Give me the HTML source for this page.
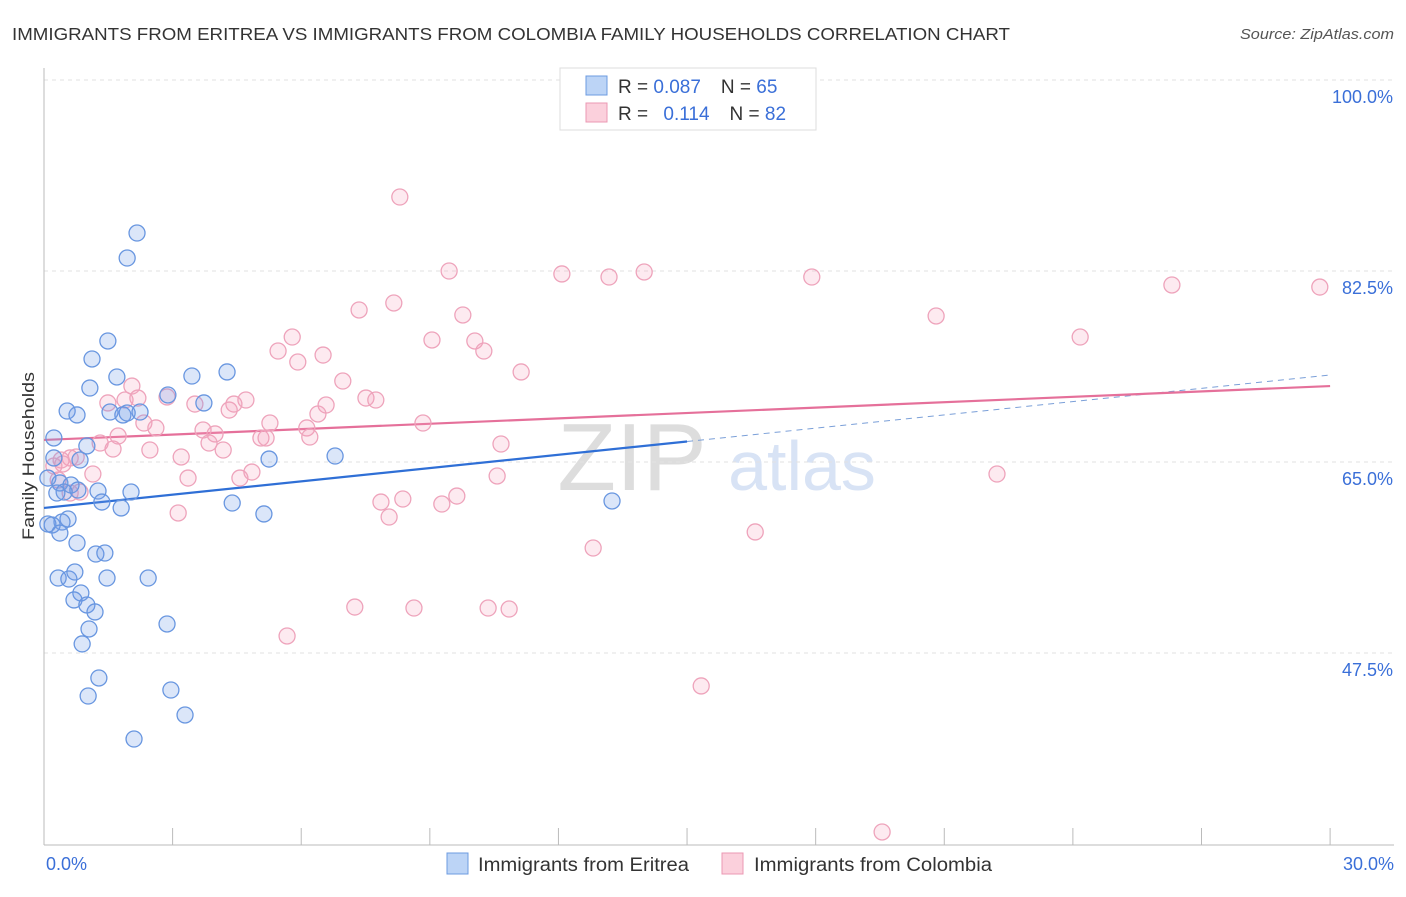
<!DOCTYPE html>
<html><head><meta charset="utf-8"><style>
body{margin:0;background:#fff;font-family:"Liberation Sans",sans-serif}
svg text{font-family:"Liberation Sans",sans-serif}
</style></head><body>
<svg id="c" width="1406" height="892" xmlns="http://www.w3.org/2000/svg">
<text x="12" y="40" font-size="17.5" fill="#333" textLength="998" lengthAdjust="spacingAndGlyphs">IMMIGRANTS FROM ERITREA VS IMMIGRANTS FROM COLOMBIA FAMILY HOUSEHOLDS CORRELATION CHART</text>
<text x="1240" y="39" font-size="15" fill="#555" textLength="154" lengthAdjust="spacingAndGlyphs" font-style="italic">Source: ZipAtlas.com</text>
<text x="34" y="456" font-size="17" fill="#333" text-anchor="middle" textLength="168" lengthAdjust="spacingAndGlyphs" transform="rotate(-90 34 456)">Family Households</text>
<text x="632" y="490" font-size="96" fill="#ddd" text-anchor="middle" font-family="Liberation Serif">ZIP</text>
<text x="802" y="490" font-size="70" fill="#d8e3f5" text-anchor="middle">atlas</text>
<g id="grid"></g><g id="axes"></g><g id="trends"></g><g id="pts"></g>
<g>
<rect x="560" y="68" width="256" height="62" fill="#fff" stroke="#ddd"/>
<rect x="586" y="76" width="21" height="19" fill="#bcd4f6" stroke="#6c9be0"/>
<rect x="586" y="103" width="21" height="19" fill="#fbd0dc" stroke="#eb98b3"/>
<text x="618" y="93" font-size="19" fill="#333">R = <tspan fill="#3a6fd8">0.087</tspan><tspan dx="20">N = </tspan><tspan fill="#3a6fd8">65</tspan></text>
<text x="618" y="120" font-size="19" fill="#333">R = <tspan dx="10" fill="#3a6fd8">0.114</tspan><tspan dx="20">N = </tspan><tspan fill="#3a6fd8">82</tspan></text>
</g>
<g>
<rect x="447" y="853" width="21" height="21" fill="#bcd4f6" stroke="#6c9be0"/>
<text x="478" y="871" font-size="19" fill="#333" textLength="211" lengthAdjust="spacingAndGlyphs">Immigrants from Eritrea</text>
<rect x="722" y="853" width="21" height="21" fill="#fbd0dc" stroke="#eb98b3"/>
<text x="754" y="871" font-size="19" fill="#333" textLength="238" lengthAdjust="spacingAndGlyphs">Immigrants from Colombia</text>
</g>
</svg>
<script>
const blueX=[2.17,1.94,1.49,1.12,1.70,1.07,3.45,4.27,2.89,3.73,0.54,0.77,1.54,1.84,1.94,2.24,0.23,1.00,0.84,0.23,5.25,6.79,0.09,0.37,0.63,0.47,0.30,0.79,1.26,2.03,1.35,1.80,4.39,5.13,13.25,0.56,0.42,0.09,0.19,0.37,0.77,1.21,1.42,0.33,0.58,0.72,1.47,2.43,0.86,0.70,1.00,1.19,1.05,2.87,0.89,1.28,1.03,2.96,3.29,2.10];
const blueY=[85.98,83.69,76.09,74.44,72.79,71.78,72.88,73.25,71.14,70.41,69.67,69.31,69.58,69.31,69.49,69.58,67.20,66.47,65.18,65.37,65.27,65.55,63.53,63.08,62.89,62.25,62.16,62.43,62.34,62.25,61.33,60.79,61.24,60.24,61.43,59.78,59.50,59.32,59.23,58.49,57.58,56.57,56.66,54.37,54.28,54.92,54.37,54.37,53.00,52.36,51.90,51.26,49.70,50.16,48.33,45.21,43.56,44.11,41.82,39.62];
const pinkX=[8.30,9.45,12.08,13.18,14.00,17.91,26.31,29.76,8.16,7.35,9.77,20.81,5.79,9.05,10.05,5.46,6.51,10.26,5.92,24.17,11.13,6.97,2.05,2.19,2.87,1.49,1.89,3.52,4.71,4.43,4.32,7.51,7.74,6.58,6.39,5.27,8.84,2.33,2.61,6.13,3.71,3.99,1.73,5.06,5.18,6.20,1.31,1.61,2.47,3.85,4.18,10.66,0.40,0.61,0.75,0.23,0.44,3.20,4.85,1.14,4.57,3.36,10.57,22.23,0.61,0.84,9.63,7.86,8.37,9.28,8.05,3.13,12.81,16.59,7.25,8.63,10.36,10.85,5.67,15.33,19.55,0.33];
const pinkY=[89.28,82.50,82.23,81.95,82.41,81.95,81.22,81.03,79.57,78.93,78.47,78.38,76.45,76.18,76.09,75.17,74.80,75.17,74.16,76.45,73.25,72.42,71.96,70.86,70.96,70.41,70.68,70.31,70.68,70.31,69.76,70.86,70.68,70.22,69.40,68.57,68.57,68.57,68.12,68.12,67.93,67.57,67.38,67.20,67.20,67.29,66.74,66.19,66.10,66.74,66.10,66.65,65.18,65.37,65.46,64.63,64.82,65.46,64.08,63.90,63.53,63.53,63.72,63.90,62.16,62.25,61.88,61.33,61.61,61.15,59.96,60.33,57.12,58.59,51.71,51.62,51.62,51.53,49.06,44.48,31.10,63.35];
const yTicks=[100,82.5,65,47.5];
const yTickLabels=["100.0%","82.5%","65.0%","47.5%"];
const xTickLabels=["0.0%","30.0%"];
const blueTrend=[60.79,72.97];
const pinkTrend=[67.02,71.96];
const NS="http://www.w3.org/2000/svg";
const X=v=>44+v*42.87, Y=v=>462-(v-65)*10.914;
function mk(t,a,p){const e=document.createElementNS(NS,t);for(const k in a)e.setAttribute(k,a[k]);p.appendChild(e);return e;}
const grid=document.getElementById('grid'),axes=document.getElementById('axes'),tr=document.getElementById('trends'),pts=document.getElementById('pts');
yTicks.forEach((t,i)=>{
 const l=mk('line',{x1:44,x2:1394,y1:Y(t),y2:Y(t),stroke:'#e2e2e2','stroke-dasharray':'4,4'},grid);
 
 
 const tx=mk('text',{x:1393,y:Y(t)+23,'font-size':18,fill:'#3a6fd8','text-anchor':'end'},axes);
 tx.textContent=yTickLabels[i];
 
 
});
mk('line',{x1:44,x2:44,y1:68,y2:845,stroke:'#bbb'},axes);
mk('line',{x1:44,x2:1394,y1:845,y2:845,stroke:'#bbb'},axes);
for(let i=0;i<=10;i++){mk('line',{x1:X(i*3),x2:X(i*3),y1:828,y2:845,stroke:'#bbb'},axes);}
[[0,'start',46],[30,'end',1394]].forEach((d,i)=>{const t=mk('text',{x:d[2],y:870,'font-size':18,fill:'#3a6fd8','text-anchor':d[1]},axes);t.textContent=xTickLabels[i];
 
 });
const bAt=v=>blueTrend[0]+(blueTrend[1]-blueTrend[0])*v/30;
let l1=mk('line',{x1:X(0),y1:Y(bAt(0)),x2:X(15),y2:Y(bAt(15)),stroke:'#2f6fd6','stroke-width':2.2},tr);


let l2=mk('line',{x1:X(15),y1:Y(bAt(15)),x2:X(30),y2:Y(bAt(30)),stroke:'#7a9fd8','stroke-width':1,'stroke-dasharray':'6,5'},tr);


let l3=mk('line',{x1:X(0),y1:Y(pinkTrend[0]),x2:X(30),y2:Y(pinkTrend[1]),stroke:'#e5709a','stroke-width':2.2},tr);


pinkX.forEach((x,i)=>{const c=mk('circle',{cx:X(x),cy:Y(pinkY[i]),r:8,fill:'rgba(244,160,188,0.22)',stroke:'#eea3bb','stroke-width':1.3},pts);
 
 });
blueX.forEach((x,i)=>{const c=mk('circle',{cx:X(x),cy:Y(blueY[i]),r:8,fill:'rgba(110,155,230,0.25)',stroke:'#6896e0','stroke-width':1.3},pts);
 
 });
</script>
</body></html>
